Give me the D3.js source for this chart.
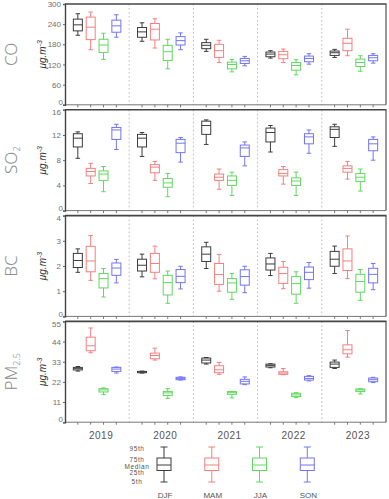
<!DOCTYPE html>
<html><head><meta charset="utf-8">
<script src="https://cdn.jsdelivr.net/npm/d3@7"></script>
<style>
html,body{margin:0;padding:0;background:#fff;}
svg{display:block;font-family:"Liberation Sans","DejaVu Sans",sans-serif;}
</style></head>
<body><svg id="chart" width="389" height="499"></svg>
<script>
// ---------- data: [5th, 25th, median, 75th, 95th] per year ----------
const years = ["2019","2020","2021","2022","2023"];
const seasons = ["DJF","MAM","JJA","SON"];
const seasonColors = ["#3c3c3c","#f57f7f","#5fd85f","#7474f4"];
const legendLabels = ["95th","75th","Median","25th","5th"];

const coDJF = [[207,220,238,255,271],[189,201,217,230,244],[159,167,177,185,195],[139,143,151,157,161],[141,147,155,160,165]];
const coMAM = [[164,194,231,261,276],[169,193,225,242,256],[126,141,161,180,192],[126,137,149,159,166],[146,161,183,198,225]];
const coJJA = [[135,156,178,195,213],[107,132,158,177,195],[98,107,120,127,135],[89,103,117,126,134],[100,114,126,136,146]];
const coSON = [[201,216,235,252,268],[164,178,191,203,214],[116,123,131,138,144],[121,128,138,145,152],[124,131,140,147,152]];

const so2DJF = [[8.3,10.1,11.5,12.2,12.5],[8.6,10.1,11.5,12.1,12.4],[10.5,12.1,13.5,14.2,14.4],[9.3,10.9,12.4,13.1,13.5],[10.2,11.6,12.9,13.3,13.7]];
const so2MAM = [[4.3,5.5,6.2,6.7,7.5],[4.8,6.0,6.9,7.3,7.8],[3.4,4.8,5.3,5.8,6.6],[4.2,5.5,5.9,6.5,7.0],[5.0,6.1,6.7,7.1,7.8]];
const so2JJA = [[3.0,4.8,5.8,6.3,7.0],[2.2,3.7,4.4,5.1,5.9],[2.4,4.0,4.8,5.5,6.1],[2.4,4.0,4.7,5.2,6.1],[3.1,4.6,5.3,5.9,6.6]];
const so2SON = [[9.7,11.3,12.8,13.2,13.7],[7.7,9.2,10.7,11.3,11.6],[7.1,8.6,9.95,10.4,10.9],[9.1,10.6,11.7,12.2,12.8],[8.0,9.5,10.6,11.3,11.7]];

const bcDJF = [[1.75,1.94,2.22,2.50,2.68],[1.57,1.80,2.03,2.27,2.47],[1.90,2.18,2.47,2.76,2.94],[1.62,1.84,2.08,2.32,2.50],[1.70,1.99,2.27,2.58,2.79]];
const bcMAM = [[1.43,1.77,2.20,2.78,3.21],[1.49,1.75,2.10,2.50,2.79],[1.00,1.27,1.66,2.10,2.46],[1.10,1.31,1.70,1.95,2.18],[1.50,1.82,2.20,2.68,3.19]];
const bcJJA = [[0.77,1.13,1.50,1.70,1.90],[0.52,0.85,1.34,1.63,1.80],[0.68,0.96,1.33,1.50,1.70],[0.52,0.88,1.30,1.58,1.77],[0.64,0.96,1.38,1.67,1.86]];
const bcSON = [[1.33,1.63,1.92,2.12,2.26],[1.09,1.34,1.59,1.86,1.99],[0.94,1.24,1.58,1.85,1.99],[1.12,1.46,1.75,1.96,2.14],[1.06,1.33,1.67,1.91,2.10]];

const pmDJF = [[27.9,28.5,29.2,29.9,30.4],[26.8,27.0,27.4,27.7,27.9],[31.7,32.3,33.9,35.0,35.3],[29.7,30.1,31.0,31.7,31.9],[29.3,29.9,31.7,32.8,33.9]];
const pmMAM = [[37.9,39.0,41.7,46.4,51.4],[33.9,34.6,36.4,37.7,40.4],[26.1,27.0,28.6,30.8,32.6],[25.9,26.1,26.8,27.5,29.3],[35.5,37.3,39.5,42.2,50.0]];
const pmJJA = [[15.0,16.5,17.6,18.3,18.7],[13.0,14.5,16.0,16.8,18.3],[13.3,15.2,16.1,16.7,16.8],[13.4,14.0,14.9,15.8,16.1],[15.4,16.7,17.6,18.1,18.3]];
const pmSON = [[26.8,27.7,29.0,29.9,30.1],[23.0,23.2,23.9,24.5,24.7],[20.5,20.9,22.3,23.4,24.7],[22.5,23.0,23.9,25.0,25.4],[21.6,22.1,23.2,24.1,24.5]];

const coTicks = [0,60,120,180,240,300];
const so2Ticks = [0,4,8,12,16];
const bcTicks = [0,1,2,3,4];
const pmTicks = [0,11,22,33,44,55];

const panels = [
  {name:"CO", sub:"", series:[coDJF,coMAM,coJJA,coSON], ticks:coTicks},
  {name:"SO", sub:"2", series:[so2DJF,so2MAM,so2JJA,so2SON], ticks:so2Ticks},
  {name:"BC", sub:"", series:[bcDJF,bcMAM,bcJJA,bcSON], ticks:bcTicks},
  {name:"PM", sub:"2.5", series:[pmDJF,pmMAM,pmJJA,pmSON], ticks:pmTicks}
];

// ---------- layout ----------
const svg = d3.select("#chart");
const left = 65, right = 386;
const panelTop0 = 4, panelStep = 105.8, panelH = 100.8;
const boxW = 9, capW = 4.5;

const xYear = d3.scaleBand().domain(years).range([left, right]).paddingInner(0).paddingOuter(0);
const xSeason = d3.scalePoint().domain(seasons).range([0, xYear.bandwidth()]).padding(1);

panels.forEach((p, pi) => {
  const top = panelTop0 + pi*panelStep;
  const bottom = top + panelH;
  const yMax = d3.max(p.ticks);
  const y = d3.scaleLinear().domain([0, yMax]).range([bottom, top]);
  const g = svg.append("g");

  // year separators (dotted)
  g.selectAll("line.sep").data(years.slice(1)).join("line")
    .attr("x1", d => xYear(d)).attr("x2", d => xYear(d))
    .attr("y1", top).attr("y2", bottom)
    .attr("stroke", "#b8b8b8").attr("stroke-width", 1).attr("stroke-dasharray", "1.5,2.5");

  // x axis line at zero + ticks under each box position
  g.append("line").attr("x1", left).attr("x2", right).attr("y1", bottom).attr("y2", bottom)
    .attr("stroke", "#777").attr("stroke-width", 1);
  const tickPos = [];
  years.forEach(yr => seasons.forEach(s => tickPos.push(xYear(yr) + xSeason(s))));
  g.selectAll("line.xt").data(tickPos).join("line")
    .attr("x1", d => d).attr("x2", d => d).attr("y1", bottom).attr("y2", bottom + 2.5)
    .attr("stroke", "#777").attr("stroke-width", 1);

  // frame: top and right
  g.append("line").attr("x1", left).attr("x2", right + 0.5).attr("y1", top).attr("y2", top)
    .attr("stroke", "#444").attr("stroke-width", 1.6);
  g.append("line").attr("x1", right).attr("x2", right).attr("y1", top).attr("y2", bottom)
    .attr("stroke", "#555").attr("stroke-width", 1.2);

  // y axis
  const ax = d3.axisLeft(y).tickValues(p.ticks).tickSize(2).tickPadding(2).tickFormat(d3.format("d"));
  const ag = g.append("g").attr("transform", `translate(${left},0)`).call(ax);
  ag.select(".domain").attr("stroke", "#444").attr("stroke-width", 1.4);
  ag.selectAll(".tick line").attr("stroke", "#666");
  ag.selectAll(".tick text").attr("fill", "#707070").style("font-size", "8px")
    .attr("font-family", "'Liberation Sans',sans-serif")
    .attr("dy", d => d === 0 ? "-0.05em" : (d === yMax && pi > 0 ? "0.62em" : "0.32em"))
    .attr("x", d => d === 0 ? -2 : -4);

  // unit label
  const midY = (top + bottom) / 2;
  const ut = g.append("text").attr("transform", `translate(46,${midY}) rotate(-90)`)
    .attr("text-anchor", "middle").attr("fill", "#333").style("font-size", "10px")
    .style("font-style", "italic");
  ut.append("tspan").text("μg.m");
  ut.append("tspan").attr("dy", -4).style("font-size", "7px").text("-3");

  // panel name
  const nt = g.append("text").attr("transform", `translate(17,${midY}) rotate(-90)`)
    .attr("text-anchor", "middle").attr("fill", "#8c8c8c").style("font-size", "17px")
    .style("font-weight", "300").attr("font-family", "'Noto Sans','DejaVu Sans',sans-serif");
  nt.append("tspan").text(p.name);
  if (p.sub) nt.append("tspan").attr("dy", 3).style("font-size", "9px").text(p.sub);

  // boxes
  p.series.forEach((ser, si) => {
    const col = seasonColors[si];
    const bg = g.append("g").attr("stroke", col).attr("fill", "none").attr("stroke-width", 1);
    ser.forEach((v, yi) => {
      const cx = xYear(years[yi]) + xSeason(seasons[si]);
      const [p5, p25, med, p75, p95] = v;
      bg.append("line").attr("x1", cx).attr("x2", cx).attr("y1", y(p95)).attr("y2", y(p75));
      bg.append("line").attr("x1", cx).attr("x2", cx).attr("y1", y(p25)).attr("y2", y(p5));
      bg.append("line").attr("x1", cx - capW/2).attr("x2", cx + capW/2).attr("y1", y(p95)).attr("y2", y(p95));
      bg.append("line").attr("x1", cx - capW/2).attr("x2", cx + capW/2).attr("y1", y(p5)).attr("y2", y(p5));
      bg.append("rect").attr("x", cx - boxW/2).attr("width", boxW)
        .attr("y", y(p75)).attr("height", y(p25) - y(p75));
      bg.append("line").attr("x1", cx - boxW/2).attr("x2", cx + boxW/2).attr("y1", y(med)).attr("y2", y(med));
    });
  });

  // year labels under last panel
  if (pi === panels.length - 1) {
    g.selectAll("text.yr").data(years).join("text")
      .attr("x", d => xYear(d) + xYear.bandwidth()/2 + 4)
      .attr("y", bottom + 17)
      .attr("text-anchor", "middle").attr("fill", "#555").style("font-size", "10px")
      .style("letter-spacing", "0.5px")
      .text(d => d);
  }
});

// ---------- legend ----------
const lg = svg.append("g");
const legX = d3.scalePoint().domain(seasons).range([164, 307.3]);
const legY = {p95:447, p75:458, med:465, p25:470.5, p5:482};
const legW = 14, legCap = 7;
seasons.forEach((s, i) => {
  const cx = legX(s);
  const g = lg.append("g").attr("stroke", seasonColors[i]).attr("fill", "none").attr("stroke-width", 1);
  g.append("line").attr("x1", cx).attr("x2", cx).attr("y1", legY.p95).attr("y2", legY.p75);
  g.append("line").attr("x1", cx).attr("x2", cx).attr("y1", legY.p25).attr("y2", legY.p5);
  g.append("line").attr("x1", cx - legCap/2).attr("x2", cx + legCap/2).attr("y1", legY.p95).attr("y2", legY.p95);
  g.append("line").attr("x1", cx - legCap/2).attr("x2", cx + legCap/2).attr("y1", legY.p5).attr("y2", legY.p5);
  g.append("rect").attr("x", cx - legW/2).attr("width", legW).attr("y", legY.p75).attr("height", legY.p25 - legY.p75);
  g.append("line").attr("x1", cx - legW/2).attr("x2", cx + legW/2).attr("y1", legY.med).attr("y2", legY.med);
  lg.append("text").attr("x", cx + 1).attr("y", 498).attr("text-anchor", "middle")
    .attr("fill", "#555").style("font-size", "8px").text(s);
});
const labYs = [448.5, 459.5, 466.3, 472.5, 481];
lg.selectAll("text.ll").data(legendLabels).join("text")
  .attr("x", 137).attr("y", (d, i) => labYs[i] + 2.5)
  .attr("text-anchor", "middle").attr("fill", "#555").style("font-size", "6.5px")
  .style("letter-spacing", "0.6px")
  .text(d => d);
</script></body></html>
